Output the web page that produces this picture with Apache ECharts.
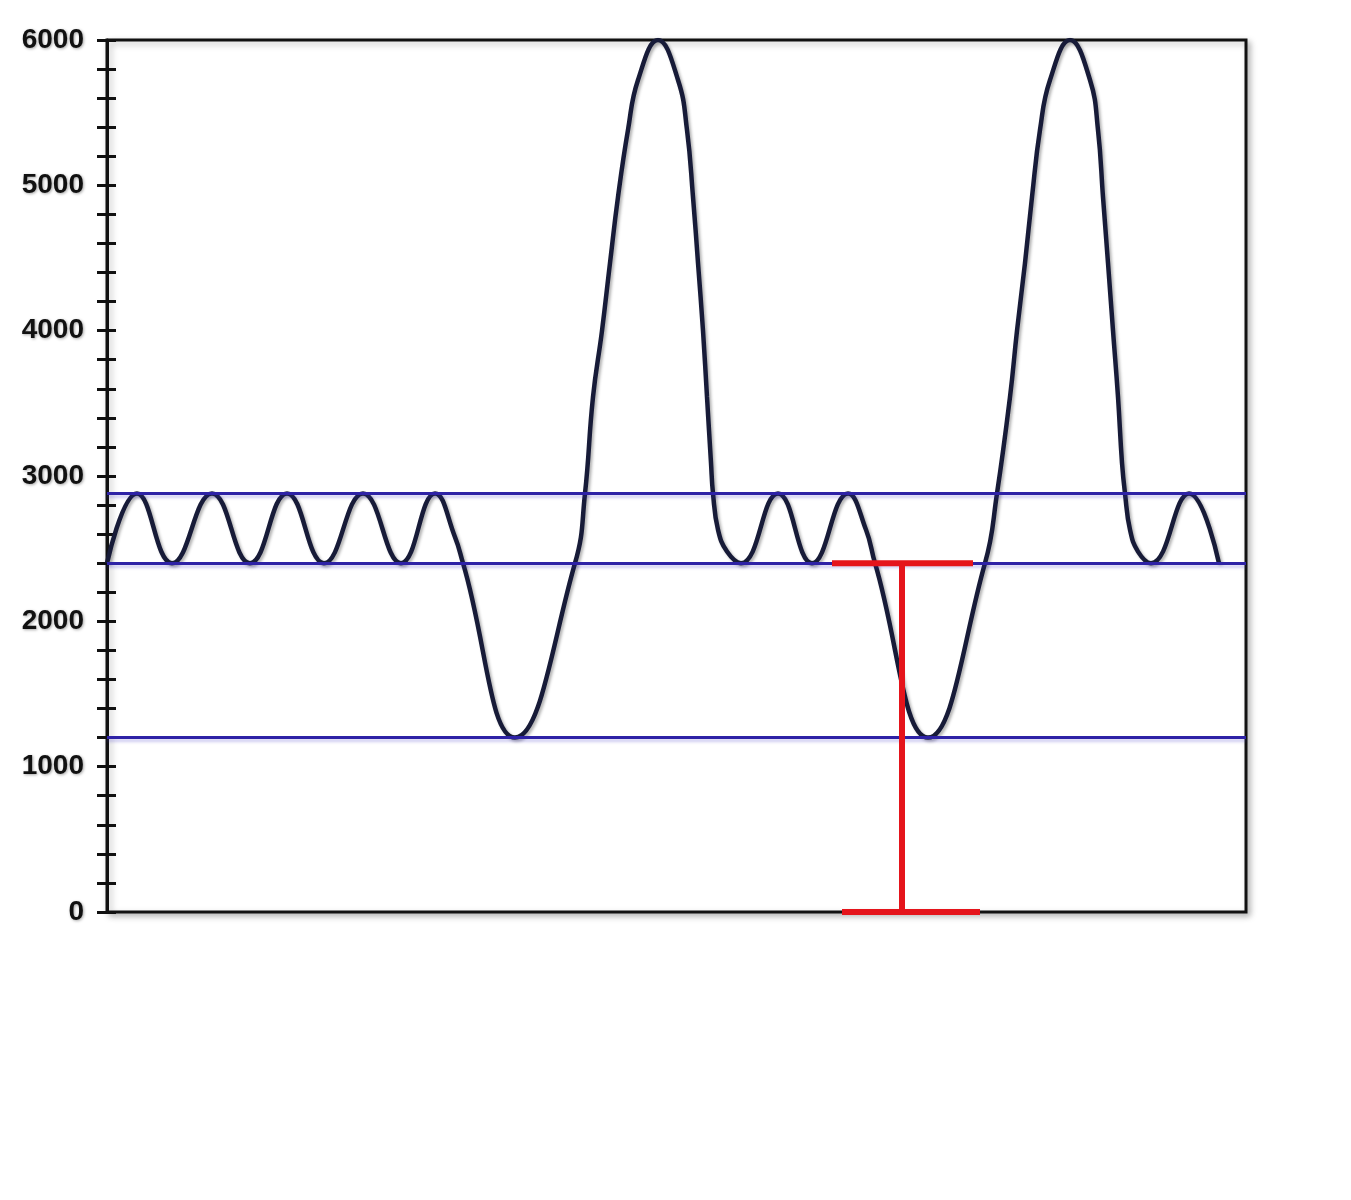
<!DOCTYPE html>
<html>
<head>
<meta charset="utf-8">
<script src="https://cdn.jsdelivr.net/npm/echarts@6/dist/echarts.min.js"></script>
<style>
  html, body { margin: 0; padding: 0; background: #fff; }
  #chart { width: 1351px; height: 1200px; }
</style>
</head>
<body>
<div id="chart"></div>
<script>
// ---- data ----
// x positions (arbitrary time units along the hidden horizontal axis)
const curveX = [
  0, 30, 65, 105, 143, 180, 217, 256, 294, 328,
  348, 356, 408, 468, 478,
  486, 495, 503, 511, 521, 531, 551, 571, 580, 586, 591, 596, 600, 604, 606, 611, 620, 634,
  671, 705, 741,
  759, 768, 821, 878, 890,
  903, 910, 918, 925, 933, 943, 963, 983, 991, 996, 1001, 1006, 1011, 1015, 1018, 1023, 1031, 1044,
  1082, 1112];
const curveY = [
  2400, 2880, 2400, 2880, 2400, 2880, 2400, 2880, 2400, 2880,
  2580, 2400, 1200, 2400, 2880,
  3544, 4000, 4466, 4920, 5381, 5725, 6000, 5725, 5381, 4920, 4466, 4000, 3544, 3090, 2880, 2630, 2480, 2400,
  2880, 2400, 2880,
  2630, 2400, 1200, 2400, 2880,
  3544, 4000, 4466, 4920, 5381, 5725, 6000, 5725, 5381, 4920, 4466, 4000, 3544, 3090, 2880, 2630, 2480, 2400,
  2880, 2400];
const levelValues = [2880, 2400, 1200];
// red I-beam: vertical stem and the two caps
const stemX = [795, 795];
const stemY = [2400, 0];
const topCapX = [725, 866];
const topCapY = [2400, 2400];
const bottomCapX = [735, 873];
const bottomCapY = [0, 0];
const yTickLabels = ['0', '1000', '2000', '3000', '4000', '5000', '6000'];
const xMin = 0, xMax = 1139;

function pairs(xs, ys) { return xs.map((x, i) => [x, ys[i]]); }

const chart = echarts.init(document.getElementById('chart'), null, { renderer: 'canvas' });

const redStyle = { color: '#e5141b', width: 6 };
const labelStyle = {
  show: true,
  fontFamily: '"Liberation Sans", Arial, sans-serif',
  fontWeight: 'bold',
  fontSize: 28,
  color: '#111',
  margin: 23,
  padding: [4, 0, 0, 0],
  textShadowColor: 'rgba(0,0,0,0.35)',
  textShadowBlur: 3,
  textShadowOffsetX: 1,
  textShadowOffsetY: 1,
  formatter: function (v) {
    const s = String(v);
    return yTickLabels.indexOf(s) >= 0 ? s : '';
  }
};

chart.setOption({
  backgroundColor: '#ffffff',
  animation: false,
  grid: {
    left: 107, top: 40, width: 1139, height: 872,
    show: true,
    backgroundColor: '#ffffff',
    borderColor: '#111111',
    borderWidth: 3,
    shadowColor: 'rgba(0,0,0,0.25)',
    shadowBlur: 6,
    shadowOffsetX: 3,
    shadowOffsetY: 3
  },
  xAxis: {
    type: 'value', min: xMin, max: xMax,
    show: false,
    splitLine: { show: false }
  },
  yAxis: [
    {
      type: 'value', min: 0, max: 6000, interval: 200, position: 'left',
      axisLine: { show: true, lineStyle: { color: '#111', width: 3 } },
      axisTick: { show: true, inside: false, length: 10, lineStyle: { color: '#111', width: 3 } },
      axisLabel: labelStyle,
      splitLine: { show: false }
    },
    {
      type: 'value', min: 0, max: 6000, interval: 200, position: 'left',
      axisLine: { show: false },
      axisTick: { show: true, inside: true, length: 9, lineStyle: { color: '#111', width: 3 } },
      axisLabel: { show: false },
      splitLine: { show: false }
    }
  ],
  series: [
    {
      type: 'line',
      name: 'levels',
      data: [],
      silent: true,
      z: 2,
      markLine: {
        silent: true,
        symbol: ['none', 'none'],
        label: { show: false },
        lineStyle: {
          color: '#2e22a6', width: 3, type: 'solid',
          shadowColor: 'rgba(60,50,200,0.25)', shadowBlur: 3, shadowOffsetY: 3
        },
        data: levelValues.map(v => ({ yAxis: v }))
      }
    },
    {
      type: 'line',
      name: 'signal',
      data: pairs(curveX, curveY),
      smooth: 0.45,
      showSymbol: false,
      symbol: 'none',
      z: 3,
      lineStyle: {
        color: '#171b38', width: 4.5,
        shadowColor: 'rgba(0,0,0,0.3)', shadowBlur: 3, shadowOffsetX: 2, shadowOffsetY: 2
      }
    },
    {
      type: 'line', name: 'stem', data: pairs(stemX, stemY),
      symbol: 'none', z: 5, lineStyle: redStyle
    },
    {
      type: 'line', name: 'topCap', data: pairs(topCapX, topCapY),
      symbol: 'none', z: 5, lineStyle: redStyle
    },
    {
      type: 'line', name: 'bottomCap', data: pairs(bottomCapX, bottomCapY),
      symbol: 'none', z: 5, lineStyle: redStyle
    }
  ]
});
</script>
</body>
</html>
